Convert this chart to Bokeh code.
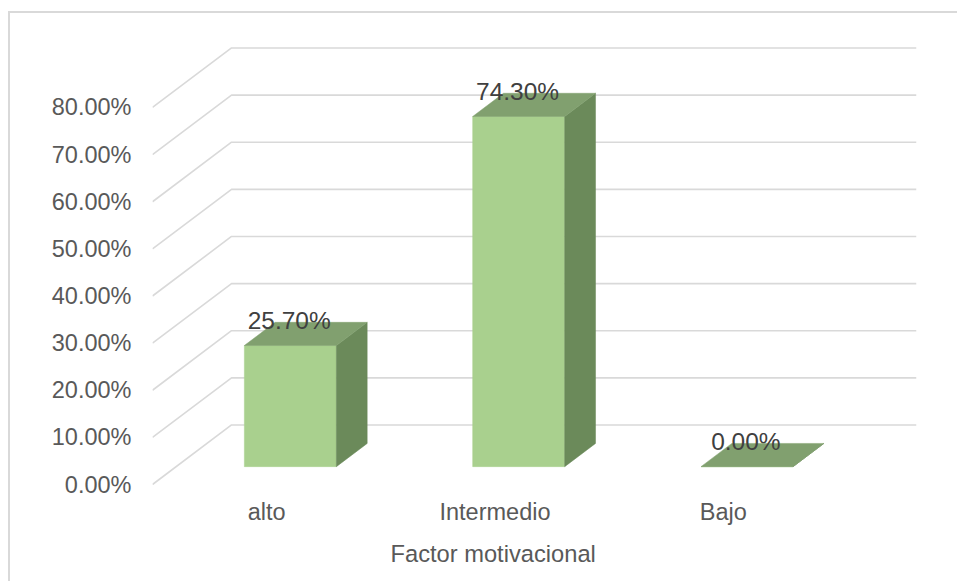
from bokeh.plotting import figure
from bokeh.models import Range1d, FixedTicker, PrintfTickFormatter, Title
from bokeh.core.properties import value
from bokeh.embed import file_html
from bokeh.resources import INLINE

categories = ["alto", "Intermedio", "Bajo"]
values = [25.7, 74.3, 0.0]
y_ticks = [0, 10, 20, 30, 40, 50, 60, 70, 80]
x_title = "Factor motivacional"

FONT = "Liberation Sans"
DEPTH_X = 0.346      # full depth of the 3D floor, in category units
DEPTH_Y = 12.63      # full depth of the 3D floor, in percent units
BAR_W = 0.403
BAR_D0 = 0.30        # bar front plane, as a fraction of the depth
BAR_D1 = 0.69        # bar back plane

p = figure(width=949, height=570, output_backend="svg", toolbar_location=None,
           x_range=Range1d(0, 3 + DEPTH_X), y_range=Range1d(-1.06, 96.76),
           min_border_left=142, min_border_right=43, min_border_top=15, min_border_bottom=94)
p.margin = (11, 0, 0, 8)
p.styles = {"border-top": "2px solid #d9d9d9", "border-left": "2px solid #d9d9d9",
            "box-sizing": "border-box"}
p.outline_line_color = None
p.xgrid.visible = False
p.ygrid.visible = False

for ax in (p.xaxis[0], p.yaxis[0]):
    ax.axis_line_color = None
    ax.major_tick_line_color = None
    ax.minor_tick_line_color = None
    ax.major_label_text_font = FONT
    ax.major_label_text_font_size = "23.5px"
    ax.major_label_text_color = "#595959"

p.yaxis[0].ticker = FixedTicker(ticks=y_ticks)
p.yaxis[0].formatter = PrintfTickFormatter(format="%.2f%%")
p.yaxis[0].major_label_standoff = 15

cat_pos = [i + 0.5 for i in range(len(categories))]
p.xaxis[0].ticker = FixedTicker(ticks=cat_pos)
p.xaxis[0].major_label_overrides = {c: n for c, n in zip(cat_pos, categories)}
p.xaxis[0].major_label_standoff = 3

# 3D walls
p.multi_line(xs=[[0, DEPTH_X, 3 + DEPTH_X] for _ in y_ticks],
             ys=[[v, v + DEPTH_Y, v + DEPTH_Y] for v in y_ticks],
             line_color="#d9d9d9", line_width=1.6)

# 3D bars
fx, fy, tx, ty, sx, sy = [], [], [], [], [], []
dx = (BAR_D1 - BAR_D0) * DEPTH_X
dy = (BAR_D1 - BAR_D0) * DEPTH_Y
for pos, v in zip(cat_pos, values):
    x0 = pos - BAR_W / 2 + BAR_D0 * DEPTH_X
    x1 = pos + BAR_W / 2 + BAR_D0 * DEPTH_X
    b = BAR_D0 * DEPTH_Y
    fx.append([x0, x1, x1, x0]); fy.append([b, b, b + v, b + v])
    tx.append([x0, x1, x1 + dx, x0 + dx]); ty.append([b + v, b + v, b + v + dy, b + v + dy])
    sx.append([x1, x1 + dx, x1 + dx, x1]); sy.append([b, b + dy, b + v + dy, b + v])

p.patches(fx, fy, fill_color="#a9d08e", line_color="#a9d08e", line_width=0.5)
p.patches(sx, sy, fill_color="#6b8a5a", line_color="#6b8a5a", line_width=0.5)
p.patches(tx, ty, fill_color="#81a06f", line_color="#81a06f", line_width=0.5)

# data labels
p.text(x=[pos + BAR_D0 * DEPTH_X - 0.005 for pos in cat_pos],
       y=[BAR_D0 * DEPTH_Y + v + 5.3 for v in values],
       text=["%.2f%%" % v for v in values],
       text_font=value(FONT), text_font_size="24.5px", text_color="#404040",
       text_align="center", text_baseline="middle")

# axis title, centred under the front plane of the floor
p.add_layout(Title(text=x_title, align="left", offset=238, standoff=22,
                   text_font=FONT, text_font_size="23.7px", text_font_style="normal",
                   text_color="#595959"), "below")

open("out.html", "w").write(file_html(p, INLINE))
